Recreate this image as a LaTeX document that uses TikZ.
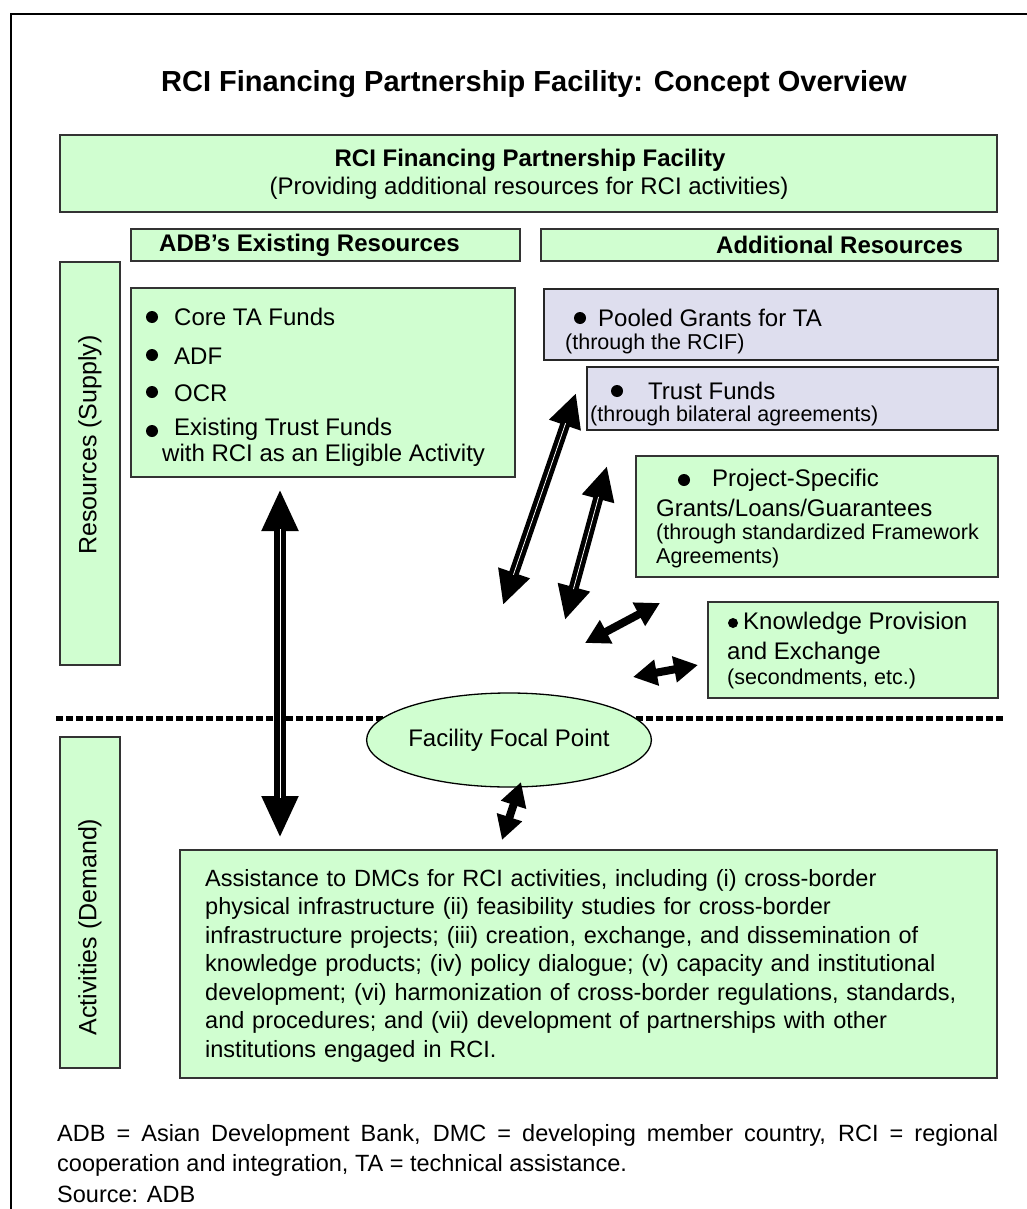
\documentclass[tikz,border=0pt]{standalone}
\usepackage{fontspec}
\setmainfont{Liberation Sans}
\usetikzlibrary{arrows.meta,shapes.geometric}
\definecolor{lgreen}{RGB}{208,254,208}
\definecolor{lgrid}{RGB}{222,222,238}
\newcommand\fsz[1]{\fontsize{#1}{#1}\selectfont}
\begin{document}
\begin{tikzpicture}[x=1pt,y=-1pt,
  gbox/.style={draw=black!80, line width=1.5pt, fill=lgreen, inner sep=0pt},
  pbox/.style={draw=black!85, line width=1.6pt, fill=lgrid, inner sep=0pt},
  txt/.style={inner sep=0pt, font=\fsz{24}},
  btxt/.style={inner sep=0pt, font=\fsz{24}\bfseries},
  stxt/.style={inner sep=0pt, font=\fsz{21.5}},
  vtxt/.style={inner sep=0pt, font=\fsz{25}, rotate=90},
  bul/.style={circle, fill=black, inner sep=0pt, minimum size=12pt},
  bigarr/.style={line width=12pt, {Triangle[length=42pt,width=34pt]}-{Triangle[length=42pt,width=34pt]}},
  medarr/.style={line width=10pt, {Triangle[length=34pt,width=31pt]}-{Triangle[length=34pt,width=31pt]}},
  smarr/.style={line width=8pt, {Triangle[length=24pt,width=25pt]}-{Triangle[length=24pt,width=25pt]}},
  wline/.style={white, line width=0.8pt}
]
\useasboundingbox (0,0) rectangle (1026,1209);
% outer frame
\draw[line width=2pt] (11,1260) -- (11,14) -- (1060,14);
% title
\node[inner sep=0pt, font=\fsz{29}\bfseries] (title) at (534,84) {RCI Financing Partnership Facility: Concept Overview};
% top box
\node[gbox, minimum width=937pt, minimum height=77pt] (top) at (528.5,173.5) {};
\node[btxt] (topA) at (530,160) {RCI Financing Partnership Facility};
\node[txt] (topB) at (529,188) {(Providing additional resources for RCI activities)};
% headers
\node[gbox, minimum width=389pt, minimum height=32pt] (hdrA) at (325.5,245) {};
\node[btxt, anchor=west] (hdrAt) at (159,245) {ADB’s Existing Resources};
\node[gbox, minimum width=457pt, minimum height=32pt] (hdrB) at (769.5,245) {};
\node[btxt, anchor=west] (hdrBt) at (716,245) {Additional Resources};
% side boxes
\node[gbox, minimum width=60pt, minimum height=403pt] (res) at (90,463.5) {};
\node[vtxt] (rest) at (90,445) {Resources (Supply)};
\node[gbox, minimum width=60pt, minimum height=331pt] (act) at (90,902.5) {};
\node[vtxt] (actt) at (90,927) {Activities (Demand)};
% ADB existing resources box
\node[gbox, minimum width=384pt, minimum height=189pt] (adb) at (323,382.5) {};
\node[bul] (b1) at (152,317) {};
\node[txt, anchor=west] (t1) at (174,317) {Core TA Funds};
\node[bul] (b2) at (152,355) {};
\node[txt, anchor=west] (t2) at (174,356) {ADF};
\node[bul] (b3) at (152,392) {};
\node[txt, anchor=west] (t3) at (174,393) {OCR};
\node[bul] (b4) at (152,431) {};
\node[txt, anchor=west] (t4) at (174,429) {Existing Trust Funds};
\node[txt, anchor=west] (t5) at (162,455) {with RCI as an Eligible Activity};
% pooled grants
\node[pbox, minimum width=454pt, minimum height=71pt] (pool) at (771,324.5) {};
\node[bul] (bp) at (580,318) {};
\node[txt, anchor=west] (tp1) at (598,318) {Pooled Grants for TA};
\node[stxt, anchor=west] (tp2) at (565,344) {(through the RCIF)};
% trust funds
\node[pbox, minimum width=411pt, minimum height=63pt] (trust) at (792.5,398.5) {};
\node[bul] (bt) at (617,391) {};
\node[txt, anchor=west] (tt1) at (648,391) {Trust Funds};
\node[stxt, anchor=west] (tt2) at (590,416) {(through bilateral agreements)};
% project specific
\node[gbox, minimum width=362pt, minimum height=121pt] (proj) at (817,516.5) {};
\node[bul] (bj) at (684,480) {};
\node[txt, anchor=west] (tj1) at (712,480) {Project-Specific};
\node[txt, anchor=west] (tj2) at (656,508) {Grants/Loans/Guarantees};
\node[stxt, anchor=west] (tj3) at (656,534) {(through standardized Framework};
\node[stxt, anchor=west] (tj4) at (656,558) {Agreements)};
% knowledge
\node[gbox, minimum width=290pt, minimum height=96pt] (know) at (853,650) {};
\node[bul, minimum size=10pt] (bk) at (733,623) {};
\node[txt, anchor=west] (tk1) at (743,623) {Knowledge Provision};
\node[txt, anchor=west] (tk2) at (727,653) {and Exchange};
\node[stxt, anchor=west] (tk3) at (727,679) {(secondments, etc.)};
% dotted line
\coordinate (dl) at (56,718);
\coordinate (dr) at (1004,718);
\draw[line width=5pt, dash pattern=on 7pt off 3pt] (dl) -- (dr);
% focal point ellipse
\node[ellipse, draw=black, line width=1.3pt, fill=lgreen, minimum width=226pt, minimum height=94pt, inner sep=0pt, font=\fsz{24}] (focal) at (509,740) {Facility Focal Point};
% bottom box
\node[gbox, minimum width=817pt, minimum height=228pt] (big) at (588.5,964) {};
\node[inner sep=0pt, anchor=base west, font={\fontsize{23.5}{28.5}\selectfont}, align=left, text width=780pt] (bigt) at (205,886) {%
Assistance to DMCs for RCI activities, including (i) cross-border\\
physical infrastructure (ii) feasibility studies for cross-border\\
infrastructure projects; (iii) creation, exchange, and dissemination of\\
knowledge products; (iv) policy dialogue; (v) capacity and institutional\\
development; (vi) harmonization of cross-border regulations, standards,\\
and procedures; and (vii) development of partnerships with other\\
institutions engaged in RCI.};
% footer
\node[inner sep=0pt, anchor=base west, font={\fontsize{23.5}{30.5}\selectfont}, align=justify, text width=941pt] (foot) at (57,1141) {%
ADB = Asian Development Bank, DMC = developing member country, RCI = regional\linebreak
cooperation and integration, TA = technical assistance.\\
Source: ADB};
% arrows
\coordinate (v1) at (280,489);
\coordinate (v2) at (280,838);
\coordinate (p1) at (576,393);
\coordinate (p2) at (503,605);
\coordinate (q1) at (607,466);
\coordinate (q2) at (565,620);
\coordinate (r1) at (660,603);
\coordinate (r2) at (585,643);
\coordinate (k1) at (698,665);
\coordinate (k2) at (633,677);
\coordinate (e1) at (521,782);
\coordinate (e2) at (502,840);
\draw[bigarr] (v1) -- (v2);
\draw[wline, shorten <=40pt, shorten >=40pt] (v1) -- (v2);
\draw[medarr] (p1) -- (p2);
\draw[wline, shorten <=32pt, shorten >=32pt] (p1) -- (p2);
\draw[medarr] (q1) -- (q2);
\draw[wline, shorten <=32pt, shorten >=32pt] (q1) -- (q2);
\draw[smarr] (r1) -- (r2);
\draw[smarr] (k1) -- (k2);
\draw[smarr] (e1) -- (e2);
\end{tikzpicture}
\end{document}
